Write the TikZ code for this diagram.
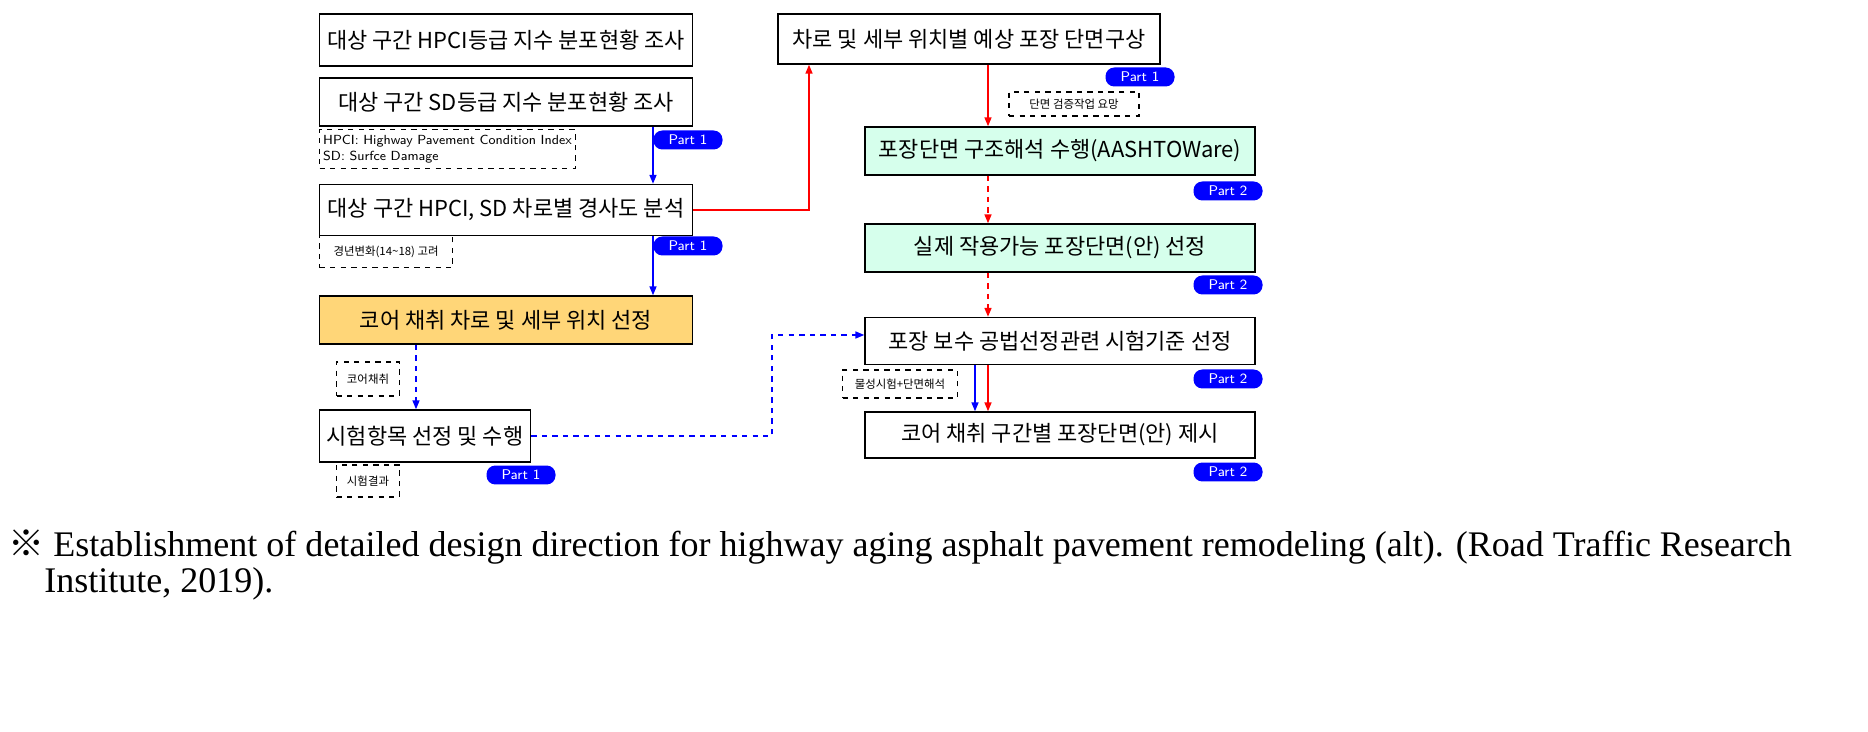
\documentclass[tikz,border=0pt]{standalone}
\usepackage{fontspec}
\setmainfont{Liberation Serif}
\newfontfamily\kr{Noto Sans CJK KR}
\usetikzlibrary{arrows.meta}
\definecolor{coreyellow}{RGB}{255,214,120}
\definecolor{mint}{RGB}{214,255,236}
\begin{document}
\begin{tikzpicture}
  [x=0.02cm,y=-0.02cm,>={Triangle[length=5pt,width=4pt]},
   box_style/.style={draw,line width=0.9pt,inner sep=0pt,font=\kr\fontsize{12.5}{14}\selectfont},
   note_style/.style={draw,dashed,line width=0.7pt,inner sep=2pt,align=left,font=\kr\fontsize{6.5}{8}\selectfont},
   part_style/.style={fill=blue,text=white,rounded corners=5pt,inner sep=0pt,minimum width=1.38cm,minimum height=0.38cm,font=\sffamily\fontsize{8}{9}\selectfont},
   red_edge/.style={draw=red,line width=0.7pt,->},
   blue_edge/.style={draw=blue,line width=0.7pt,->}]
  \useasboundingbox (0,0) rectangle (1868,732);
  % left column
  \node[box_style,minimum width=7.46cm,minimum height=1.04cm] (a) at (506,40) {대상 구간 HPCI등급 지수 분포현황 조사};
  \node[box_style,minimum width=7.46cm,minimum height=0.96cm] (b) at (506,102) {대상 구간 SD등급 지수 분포현황 조사};
  \node[box_style,minimum width=7.46cm,minimum height=1.02cm] (c) at (506,210) {대상 구간 HPCI, SD 차로별 경사도 분석};
  \node[box_style,fill=coreyellow,minimum width=7.46cm,minimum height=0.96cm] (d) at (506,320) {코어 채취 차로 및 세부 위치 선정};
  \node[box_style,minimum width=4.22cm,minimum height=1.04cm] (e) at (425,436) {시험항목 선정 및 수행};
  \node[note_style,anchor=north west,minimum width=5.08cm,minimum height=0.78cm,font=\sffamily\fontsize{7.5}{9}\selectfont] (n1) at (319,129) {HPCI: Highway Pavement Condition Index\\SD: Surfce Damage};
  \node[note_style,anchor=north west,minimum width=2.66cm,minimum height=0.64cm] (n2) at (319,235) {경년변화(14\textasciitilde18) 고려};
  \node[note_style,minimum width=1.26cm,minimum height=0.68cm] (n3) at (368,379) {코어채취};
  \node[note_style,minimum width=1.26cm,minimum height=0.64cm] (n4) at (368,481) {시험결과};
  \node[part_style] (p1) at (688,140) {Part 1};
  \node[part_style] (p2) at (688,246) {Part 1};
  \node[part_style] (p3) at (521,475) {Part 1};
  % right column
  \node[box_style,minimum width=7.64cm,minimum height=1.0cm] (f) at (969,39) {차로 및 세부 위치별 예상 포장 단면구상};
  \node[box_style,fill=mint,minimum width=7.8cm,minimum height=0.96cm] (g) at (1060,151) {포장단면 구조해석 수행(AASHTOWare)};
  \node[box_style,fill=mint,minimum width=7.8cm,minimum height=0.96cm] (h) at (1060,248) {실제 작용가능 포장단면(안) 선정};
  \node[box_style,minimum width=7.8cm,minimum height=0.94cm] (i) at (1060,341) {포장 보수 공법선정관련 시험기준 선정};
  \node[box_style,minimum width=7.8cm,minimum height=0.92cm] (j) at (1060,435) {코어 채취 구간별 포장단면(안) 제시};
  \node[note_style,minimum width=2.6cm,minimum height=0.48cm] (n5) at (1074,104) {단면 검증작업 요망};
  \node[note_style,minimum width=2.3cm,minimum height=0.56cm] (n6) at (900,384) {물성시험+단면해석};
  \node[part_style] (p4) at (1140,77) {Part 1};
  \node[part_style] (p5) at (1228,191) {Part 2};
  \node[part_style] (p6) at (1228,285) {Part 2};
  \node[part_style] (p7) at (1228,379) {Part 2};
  \node[part_style] (p8) at (1228,472) {Part 2};
  % connectors
  \draw[blue_edge] (b.south -| 653,0) -- (c.north -| 653,0);
  \draw[blue_edge] (c.south -| 653,0) -- (d.north -| 653,0);
  \draw[blue_edge,dashed] (d.south -| 416,0) -- (e.north -| 416,0);
  \draw[blue_edge,dashed] (e.east) -| (772,335) -- (i.west |- 0,335);
  \draw[red_edge] (c.east) -| (f.south -| 809,0);
  \draw[red_edge] (f.south -| 988,0) -- (g.north -| 988,0);
  \draw[red_edge,dashed] (g.south -| 988,0) -- (h.north -| 988,0);
  \draw[red_edge,dashed] (h.south -| 988,0) -- (i.north -| 988,0);
  \draw[blue_edge] (i.south -| 975,0) -- (j.north -| 975,0);
  \draw[red_edge] (i.south -| 988,0) -- (j.north -| 988,0);
  % caption
  \node[anchor=west,inner sep=0pt,font=\fontsize{20.5}{24}\selectfont] (cap1) at (8,547) {{\kr ※} Establishment of detailed design direction for highway aging asphalt pavement remodeling (alt). (Road Traffic Research};
  \node[anchor=west,inner sep=0pt,font=\fontsize{20.5}{24}\selectfont] (cap2) at (44,584) {Institute, 2019).};
\end{tikzpicture}
\end{document}
